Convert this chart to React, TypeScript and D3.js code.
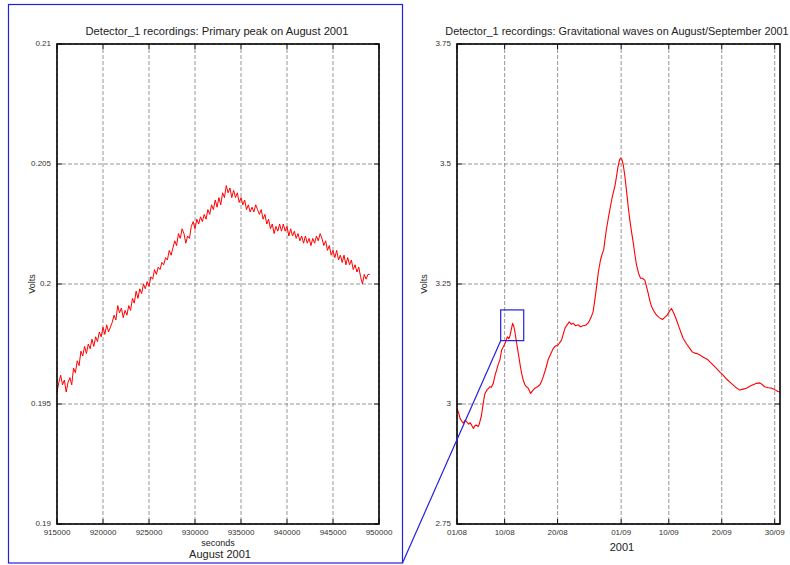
import React from "react";
import * as d3 from "d3";

// ---------- Left chart: Primary peak (seconds in August 2001) ----------
const leftStartSeconds = 915000;
const leftSampleStep = 200; // seconds between samples
const leftVolts = [
  0.1955, 0.1959, 0.1962, 0.1958, 0.196, 0.1955, 0.1959, 0.1961, 0.1958, 0.1965,
  0.1963, 0.1968, 0.1966, 0.1972, 0.197, 0.1974, 0.1971, 0.1975, 0.1973, 0.1977,
  0.1974, 0.1978, 0.1976, 0.198, 0.1978, 0.1982, 0.1979, 0.1983, 0.198, 0.1982,
  0.1984, 0.1987, 0.1985, 0.1991, 0.1988, 0.199, 0.1986, 0.1989, 0.1987, 0.1991,
  0.1989, 0.1994, 0.1992, 0.1997, 0.1994, 0.1998, 0.1996, 0.2, 0.1998, 0.2001,
  0.1999, 0.2003, 0.2002, 0.2006, 0.2004, 0.2007, 0.2006, 0.2009, 0.2008, 0.2011,
  0.201, 0.2014, 0.2012, 0.2015, 0.2018, 0.2016, 0.2021, 0.2019, 0.2023, 0.2021,
  0.2017, 0.202, 0.2019, 0.2024, 0.2026, 0.2023, 0.2027, 0.2025, 0.2028, 0.2026,
  0.2029, 0.2027, 0.2031, 0.2029, 0.2033, 0.2031, 0.2035, 0.2032, 0.2036, 0.2033,
  0.2038, 0.2036, 0.2041, 0.2038, 0.204, 0.2036, 0.2039, 0.2036, 0.2038, 0.2034,
  0.2036, 0.2033, 0.2035, 0.2031, 0.2033, 0.203, 0.2032, 0.203, 0.2033, 0.2031,
  0.2029, 0.2031, 0.2027, 0.2029, 0.2025, 0.2027, 0.2023, 0.2025, 0.2021, 0.2024,
  0.2022, 0.2025, 0.2022, 0.2025, 0.2022, 0.2024, 0.202, 0.2023, 0.202, 0.2022,
  0.2019, 0.2021, 0.2018, 0.202, 0.2017, 0.202, 0.2017, 0.2019, 0.2016, 0.2019,
  0.2017, 0.202, 0.2018, 0.2021, 0.2019, 0.2016, 0.2018, 0.2014, 0.2016, 0.2012,
  0.2014, 0.2011, 0.2014, 0.201, 0.2012, 0.2009, 0.2012, 0.2008, 0.2011, 0.2008,
  0.201, 0.2006, 0.2008, 0.2005, 0.2007, 0.2003, 0.2, 0.2004, 0.2002, 0.2004,
  0.2004,
];
const leftXTicks = [915000, 920000, 925000, 930000, 935000, 940000, 945000, 950000];
const leftYTicks = [0.19, 0.195, 0.2, 0.205, 0.21];
const leftYTickLabels = ["0.19", "0.195", "0.2", "0.205", "0.21"];

// ---------- Right chart: Gravitational waves (days after 01/08/2001) ----------
const rightDays = [
  0.0, 0.3, 0.57, 0.9, 1.19, 1.5, 1.82, 2.2, 2.5, 2.77, 3.08, 3.4, 3.7, 4.0, 4.2,
  4.6, 5.0, 5.28, 5.7, 6.0, 6.23, 6.5, 6.85, 7.2, 7.49, 7.8, 8.11, 8.43, 8.7, 9.06,
  9.3, 9.5, 9.8, 10.0, 10.25, 10.5, 10.7, 10.94, 11.25, 11.57, 11.9, 12.2, 12.5,
  12.83, 13.1, 13.45, 13.7, 13.9, 14.3, 14.7, 15.2, 15.66, 16.0, 16.3, 16.8, 17.2,
  17.7, 18.2, 18.6, 19.1, 19.4, 19.75, 20.1, 20.4, 20.8, 21.2, 21.6, 21.95, 22.4,
  22.9, 23.3, 23.8, 24.3, 24.8, 25.3, 25.7, 26.0, 26.35, 26.7, 27.1, 27.4, 27.7,
  27.95, 28.2, 28.7, 29.2, 29.5, 29.8, 30.1, 30.4, 30.7, 30.9, 31.15, 31.4, 31.7,
  32.0, 32.3, 32.64, 33.0, 33.3, 33.6, 33.9, 34.3, 34.66, 35.0, 35.47, 35.8, 36.1,
  36.4, 36.74, 37.2, 37.7, 38.2, 38.8, 39.2, 39.7, 40.1, 40.5, 41.0, 41.45, 42.1,
  42.7, 43.3, 43.96, 44.4, 44.9, 45.4, 45.85, 46.6, 47.4, 48.2, 49.0, 49.6, 50.25,
  51.0, 51.8, 52.6, 53.4, 54.0, 54.66, 55.3, 55.9, 56.6, 57.2, 57.7, 58.1, 58.8,
  59.4, 60.0, 60.6, 61.0,
];
const rightVolts = [
  2.99, 2.982, 2.97, 2.964, 2.96, 2.966, 2.963, 2.958, 2.961, 2.956, 2.949, 2.955,
  2.956, 2.953, 2.958, 2.975, 3.005, 3.022, 3.03, 3.033, 3.036, 3.035, 3.043, 3.06,
  3.071, 3.083, 3.092, 3.1125, 3.118, 3.126, 3.133, 3.14, 3.136, 3.142, 3.155, 3.168,
  3.163, 3.15, 3.128, 3.106, 3.083, 3.064, 3.05, 3.04, 3.036, 3.033, 3.027, 3.022,
  3.028, 3.033, 3.036, 3.04, 3.048, 3.057, 3.075, 3.092, 3.104, 3.116, 3.121, 3.123,
  3.128, 3.133, 3.147, 3.158, 3.165, 3.171, 3.166, 3.168, 3.163, 3.165, 3.161, 3.163,
  3.164, 3.169, 3.18, 3.192, 3.215, 3.244, 3.275, 3.3, 3.312, 3.321, 3.343, 3.3625,
  3.395, 3.425, 3.44, 3.453, 3.472, 3.494, 3.509, 3.512, 3.509, 3.498, 3.475, 3.446,
  3.414, 3.383, 3.356, 3.335, 3.311, 3.29, 3.272, 3.262, 3.262, 3.258, 3.244, 3.231,
  3.216, 3.203, 3.193, 3.185, 3.18, 3.176, 3.18, 3.185, 3.193, 3.199, 3.188, 3.175,
  3.155, 3.137, 3.126, 3.116, 3.109, 3.106, 3.105, 3.102, 3.097, 3.092, 3.083, 3.074,
  3.067, 3.06, 3.051, 3.043, 3.035, 3.029, 3.031, 3.033, 3.037, 3.04, 3.043, 3.044,
  3.04, 3.036, 3.034, 3.033, 3.03, 3.026, 3.025,
];
const rightXTickDates = ["2001-08-01", "2001-08-10", "2001-08-20", "2001-09-01", "2001-09-10", "2001-09-20", "2001-09-30"];
const rightXTickLabels = ["01/08", "10/08", "20/08", "01/09", "10/09", "20/09", "30/09"];
const rightXDomain = ["2001-08-01", "2001-10-01"];
const rightYTicks = [2.75, 3, 3.25, 3.5, 3.75];
const rightYTickLabels = ["2.75", "3", "3.25", "3.5", "3.75"];
const zoomBoxDays = [8.25, 12.6];
const zoomBoxVolts = [3.132, 3.196];

const FONT = "'Liberation Sans', Arial, Helvetica, sans-serif";
const DAY = 86400000;
const parseDay = (s: string) => new Date(s + "T00:00:00Z");
const aug1 = parseDay("2001-08-01");

type FrameProps = {
  x: any;
  y: any;
  xTicks: any[];
  xLabels: string[];
  yTicks: number[];
  yLabels: string[];
};

function Frame({ x, y, xTicks, xLabels, yTicks, yLabels }: FrameProps) {
  const [x0, x1] = x.range();
  const [y1, y0] = y.range();
  const tl = 5;
  return (
    <g>
      {xTicks.map((t, i) => (
        <g key={"xg" + i}>
          <line x1={x(t)} x2={x(t)} y1={y0 + tl} y2={y1 - tl} stroke="#8a8a8a" strokeWidth={0.9} strokeDasharray="4,2" />
          <line x1={x(t)} x2={x(t)} y1={y1} y2={y1 - tl} stroke="#000" strokeWidth={1} />
          <line x1={x(t)} x2={x(t)} y1={y0} y2={y0 + tl} stroke="#000" strokeWidth={1} />
          <text x={x(t)} y={y1 + 11} textAnchor="middle" fontSize={8} fill="#333" fontFamily={FONT}>
            {xLabels[i]}
          </text>
        </g>
      ))}
      {yTicks.map((t, i) => (
        <g key={"yg" + i}>
          <line x1={x0 + tl} x2={x1 - tl} y1={y(t)} y2={y(t)} stroke="#8a8a8a" strokeWidth={0.9} strokeDasharray="4,2" />
          <line x1={x0} x2={x0 + tl} y1={y(t)} y2={y(t)} stroke="#000" strokeWidth={1} />
          <line x1={x1} x2={x1 - tl} y1={y(t)} y2={y(t)} stroke="#000" strokeWidth={1} />
          <text x={x0 - 6} y={y(t) + 1.5} textAnchor="end" fontSize={8} fill="#333" fontFamily={FONT}>
            {yLabels[i]}
          </text>
        </g>
      ))}
    </g>
  );
}

function Border({ x, y }: { x: any; y: any }) {
  const [x0, x1] = x.range();
  const [y1, y0] = y.range();
  return <rect x={x0} y={y0} width={x1 - x0} height={y1 - y0} fill="none" stroke="#000" strokeWidth={1.6} />;
}

export default function App() {
  // Left chart scales
  const lx = d3.scaleLinear().domain([915000, 950000]).range([57, 379]);
  const ly = d3.scaleLinear().domain([0.19, 0.21]).range([524, 44]);
  const leftData = leftVolts.map((v, i) => ({ s: leftStartSeconds + i * leftSampleStep, v }));
  const leftLine = d3
    .line<{ s: number; v: number }>()
    .x((d) => lx(d.s))
    .y((d) => ly(d.v));

  // Right chart scales
  const rx = d3.scaleUtc().domain(rightXDomain.map(parseDay)).range([457, 780]);
  const ry = d3.scaleLinear().domain([2.75, 3.75]).range([524, 44]);
  const rightData = rightDays.map((d, i) => ({ t: new Date(aug1.getTime() + d * DAY), v: rightVolts[i] }));
  const rightLine = d3
    .line<{ t: Date; v: number }>()
    .x((d) => rx(d.t))
    .y((d) => ry(d.v));

  const boxX0 = rx(new Date(aug1.getTime() + zoomBoxDays[0] * DAY));
  const boxX1 = rx(new Date(aug1.getTime() + zoomBoxDays[1] * DAY));
  const boxY0 = ry(zoomBoxVolts[1]);
  const boxY1 = ry(zoomBoxVolts[0]);

  const panel = { x: 8.5, y: 4.5, w: 394, h: 558.5 };

  return (
    <svg
      width={790}
      height={565}
      style={{ position: "absolute", left: 0, top: 0, background: "#fff", display: "block" }}
    >
      <rect x={0} y={0} width={790} height={565} fill="#fff" />

      {/* Left chart */}
      <Frame
        x={lx}
        y={ly}
        xTicks={leftXTicks}
        xLabels={leftXTicks.map((t) => String(t))}
        yTicks={leftYTicks}
        yLabels={leftYTickLabels}
      />
      <path d={leftLine(leftData) || ""} fill="none" stroke="#ff0000" strokeWidth={1} strokeLinejoin="round" />
      <Border x={lx} y={ly} />
      <text x={217} y={35} textAnchor="middle" fontSize={11.2} fill="#222" fontFamily={FONT}>
        Detector_1 recordings: Primary peak on August 2001
      </text>
      <text x={218} y={546} textAnchor="middle" fontSize={9} fill="#222" fontFamily={FONT}>
        seconds
      </text>
      <text x={220} y={558} textAnchor="middle" fontSize={11} fill="#222" fontFamily={FONT}>
        August 2001
      </text>
      <text transform="translate(35,284) rotate(-90)" textAnchor="middle" fontSize={9} fill="#222" fontFamily={FONT}>
        Volts
      </text>

      {/* Right chart */}
      <Frame
        x={rx}
        y={ry}
        xTicks={rightXTickDates.map(parseDay)}
        xLabels={rightXTickLabels}
        yTicks={rightYTicks}
        yLabels={rightYTickLabels}
      />
      <path d={rightLine(rightData) || ""} fill="none" stroke="#ff0000" strokeWidth={1.1} strokeLinejoin="round" />
      <Border x={rx} y={ry} />
      <text x={617} y={35} textAnchor="middle" fontSize={10.9} fill="#222" fontFamily={FONT}>
        Detector_1 recordings: Gravitational waves on August/September 2001
      </text>
      <text x={622} y={551} textAnchor="middle" fontSize={11} fill="#222" fontFamily={FONT}>
        2001
      </text>
      <text transform="translate(427,284) rotate(-90)" textAnchor="middle" fontSize={9} fill="#222" fontFamily={FONT}>
        Volts
      </text>

      {/* Zoom annotation */}
      <rect x={panel.x} y={panel.y} width={panel.w} height={panel.h} fill="none" stroke="#2020e0" strokeWidth={1.2} />
      <rect x={boxX0} y={boxY0} width={boxX1 - boxX0} height={boxY1 - boxY0} fill="none" stroke="#2020e0" strokeWidth={1.2} />
      <line x1={panel.x + panel.w} y1={panel.y + panel.h} x2={boxX0} y2={boxY1} stroke="#2020e0" strokeWidth={1.2} />
    </svg>
  );
}
